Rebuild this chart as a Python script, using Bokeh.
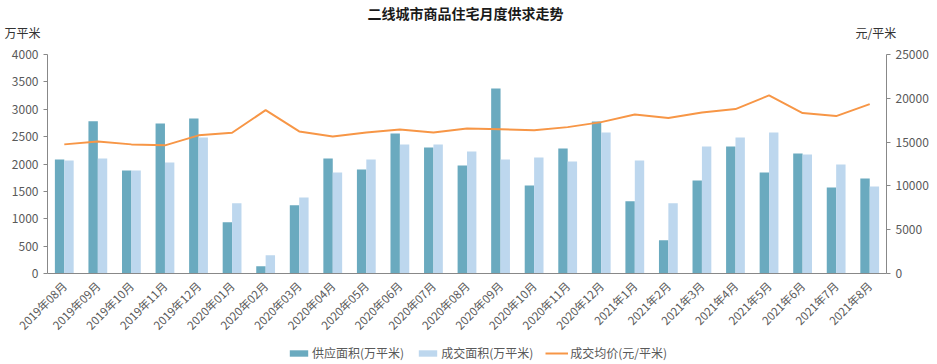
import math
from bokeh.plotting import figure
from bokeh.layouts import column
from bokeh.models import (ColumnDataSource, FactorRange, Range1d, LinearAxis,
                          FixedTicker, Legend, LegendItem, Label)
from bokeh.transform import dodge
from bokeh.embed import file_html
from bokeh.resources import INLINE

months = ["2019年08月", "2019年09月", "2019年10月", "2019年11月", "2019年12月",
          "2020年01月", "2020年02月", "2020年03月", "2020年04月", "2020年05月",
          "2020年06月", "2020年07月", "2020年08月", "2020年09月", "2020年10月",
          "2020年11月", "2020年12月", "2021年1月", "2021年2月", "2021年3月",
          "2021年4月", "2021年5月", "2021年6月", "2021年7月", "2021年8月"]
supply = [2080, 2780, 1880, 2740, 2830, 935, 134, 1245, 2100, 1900, 2556, 2300, 1973,
          3380, 1609, 2283, 2774, 1318, 607, 1700, 2319, 1846, 2192, 1573, 1737]
sales = [2064, 2100, 1880, 2028, 2483, 1281, 334, 1390, 1845, 2082, 2356, 2356, 2228,
         2082, 2119, 2046, 2574, 2064, 1281, 2319, 2483, 2574, 2174, 1992, 1591]
price = [14740, 15080, 14740, 14630, 15770, 16070, 18650, 16220, 15650, 16100, 16450,
         16100, 16560, 16480, 16340, 16710, 17280, 18160, 17740, 18390, 18770, 20330,
         18310, 17970, 19330]
left_ticks = [0, 500, 1000, 1500, 2000, 2500, 3000, 3500, 4000]
right_ticks = [0, 5000, 10000, 15000, 20000, 25000]
title_text = "二线城市商品住宅月度供求走势"
left_unit = "万平米"
right_unit = "元/平米"
names = ["供应面积(万平米)", "成交面积(万平米)", "成交均价(元/平米)"]

FONT = "Noto Sans CJK SC"
C_SUPPLY = "#6AAABF"
C_SALES = "#BDD7EE"
C_PRICE = "#F79646"
AXIS_C = "#888888"
TEXT_C = "#595959"
W = 937

src = ColumnDataSource(dict(month=months, supply=supply, sales=sales, price=price))


def strip(h, xr, yr):
    f = figure(width=W, height=h, x_range=xr, y_range=yr, x_axis_type=None,
               y_axis_type=None, output_backend="svg", toolbar_location=None,
               min_border=0)
    f.frame_align = False
    f.outline_line_color = None
    f.xgrid.visible = False
    f.ygrid.visible = False
    return f


# ---- top strip: title and unit labels ----
top = strip(46, Range1d(0, W), Range1d(46, 0))
top.add_layout(Label(x=465, y=12, text=title_text, text_align="center",
                     text_baseline="middle", text_font=FONT, text_font_size="14px",
                     text_font_style="bold", text_color="#1a1a1a"))
top.add_layout(Label(x=4, y=32, text=left_unit, text_align="left",
                     text_baseline="middle", text_font=FONT, text_font_size="12px",
                     text_color="#333333"))
top.add_layout(Label(x=855, y=32, text=right_unit, text_align="left",
                     text_baseline="middle", text_font=FONT, text_font_size="12px",
                     text_color="#333333"))

# ---- main chart ----
p = figure(x_range=FactorRange(factors=months, range_padding=0),
           y_range=Range1d(0, 4000), width=W, height=297,
           output_backend="svg", toolbar_location=None,
           min_border_left=47, min_border_right=51, min_border_top=8,
           min_border_bottom=70)
p.extra_y_ranges = {"price": Range1d(0, 25000)}

p.vbar(x=dodge("month", -0.14, range=p.x_range), top="supply", width=0.28,
       source=src, fill_color=C_SUPPLY, line_color=None)
p.vbar(x=dodge("month", 0.14, range=p.x_range), top="sales", width=0.28,
       source=src, fill_color=C_SALES, line_color=None)
p.line(x="month", y="price", source=src, y_range_name="price",
       line_color=C_PRICE, line_width=2)

p.xgrid.visible = False
p.ygrid.visible = False
p.outline_line_color = None

yl = p.yaxis[0]
yl.ticker = FixedTicker(ticks=left_ticks)
yr = LinearAxis(y_range_name="price", ticker=FixedTicker(ticks=right_ticks))
p.add_layout(yr, "right")
for ax in (yl, yr):
    ax.axis_line_color = AXIS_C
    ax.major_tick_line_color = AXIS_C
    ax.major_tick_out = 4
    ax.major_tick_in = 0
    ax.minor_tick_line_color = None
    ax.major_label_text_font = FONT
    ax.major_label_text_font_size = "12px"
    ax.major_label_text_color = TEXT_C
    ax.major_label_standoff = 5

xa = p.xaxis[0]
xa.axis_line_color = AXIS_C
xa.major_tick_line_color = None
xa.minor_tick_line_color = None
xa.major_label_orientation = math.pi / 4
xa.major_label_text_font = FONT
xa.major_label_text_font_size = "11.5px"
xa.major_label_text_color = TEXT_C
xa.major_label_standoff = 4

# ---- bottom strip: legend (series hidden, only keys show) ----
bot = strip(21, FactorRange(factors=months, range_padding=0), Range1d(0, 4000))
bot.extra_y_ranges = {"price": Range1d(0, 25000)}
g1 = bot.vbar(x="month", top="supply", width=0.28, source=src,
              fill_color=C_SUPPLY, line_color=None, visible=False)
g2 = bot.vbar(x="month", top="sales", width=0.28, source=src,
              fill_color=C_SALES, line_color=None, visible=False)
g3 = bot.line(x="month", y="price", source=src, y_range_name="price",
              line_color=C_PRICE, line_width=2, visible=False)
legend = Legend(items=[LegendItem(label=names[0], renderers=[g1]),
                       LegendItem(label=names[1], renderers=[g2]),
                       LegendItem(label=names[2], renderers=[g3])],
                location=(287, 3), orientation="horizontal",
                border_line_color=None, background_fill_alpha=0,
                inactive_fill_alpha=0,
                glyph_width=23, glyph_height=8, label_standoff=2, spacing=12,
                padding=0, margin=0, label_text_font=FONT,
                label_text_font_size="12px", label_text_color=TEXT_C)
bot.add_layout(legend)

layout = column(top, p, bot, spacing=0)
open("out.html", "w").write(file_html(layout, INLINE))
